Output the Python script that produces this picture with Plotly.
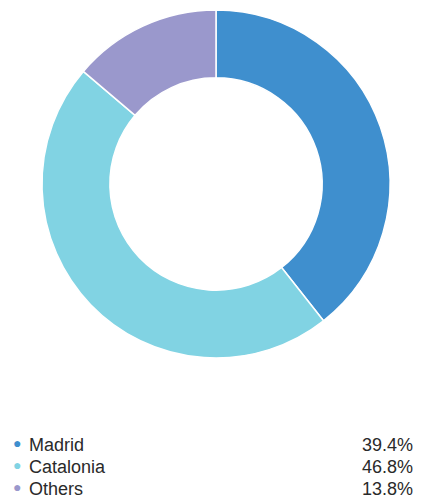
import plotly.graph_objects as go

labels = ["Madrid", "Catalonia", "Others"]
values = [39.4, 46.8, 13.8]
colors = ["#3f8fce", "#81d3e3", "#9a98cc"]

W, H = 427, 496

fig = go.Figure()
fig.add_trace(go.Pie(
    labels=labels, values=values, hole=0.61, sort=False, direction="clockwise",
    rotation=0, marker=dict(colors=colors, line=dict(color="white", width=1.5)),
    textinfo="none", hoverinfo="label+percent", showlegend=False,
    domain=dict(x=[42 / W, 390 / W], y=[(H - 358) / H, (H - 10) / H]),
))

font = dict(family="Liberation Sans, Arial, sans-serif", size=18, color="#2a2a2a")
row_y = [445, 467, 489]
for lab, val, col, py in zip(labels, values, colors, row_y):
    yp = 1 - py / H
    fig.add_annotation(x=17 / W, y=1 - (py - 3) / H, xref="paper", yref="paper", text="●",
                       showarrow=False, xanchor="center", yanchor="middle",
                       font=dict(size=14, color=col))
    fig.add_annotation(x=27 / W, y=yp, xref="paper", yref="paper", text=lab,
                       showarrow=False, xanchor="left", yanchor="middle", font=font)
    fig.add_annotation(x=415 / W, y=yp, xref="paper", yref="paper", text=f"{val:.1f}%",
                       showarrow=False, xanchor="right", yanchor="middle", font=font)

fig.update_layout(width=W, height=H, margin=dict(l=0, r=0, t=0, b=0),
                  paper_bgcolor="white", plot_bgcolor="white")
fig.write_html("out.html")
